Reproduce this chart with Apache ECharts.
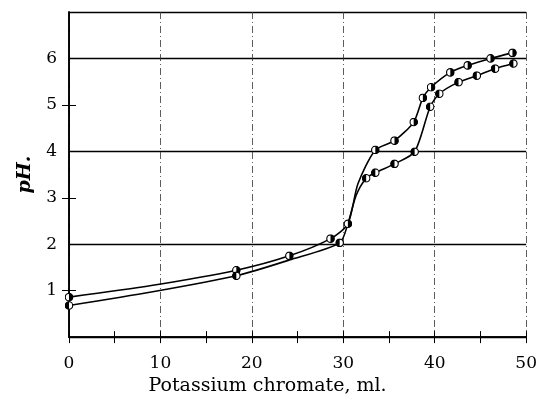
<!DOCTYPE html>
<html>
<head>
<meta charset="utf-8">
<script src="https://cdn.jsdelivr.net/npm/echarts@6/dist/echarts.min.js"></script>
<style>
html,body{margin:0;padding:0;background:#fff;}
#chart{width:540px;height:401px;}
</style>
</head>
<body>
<div id="chart"></div>
<script>
// ---- data ----
const xTicks = [0, 10, 20, 30, 40, 50];
const yTicks = [1, 2, 3, 4, 5, 6];
// upper curve (1 = measured point with marker, 0 = shape-only point on the drawn curve)
const upperX    = [0,    9,    18.3, 24.1, 28.6, 30.5, 31.6, 33.5, 35.6, 37.7, 38.7, 39.6, 41.7, 43.6, 46.1, 48.5];
const upperY    = [0.86, 1.11, 1.44, 1.75, 2.12, 2.44, 3.30, 4.03, 4.23, 4.63, 5.15, 5.38, 5.70, 5.85, 6.00, 6.12];
const upperMark = [1,    0,    1,    1,    1,    1,    0,    1,    1,    1,    1,    1,    1,    1,    1,    1];
// lower curve
const lowerX    = [0,    9,    18.3, 24.1, 29.6, 30.5, 31.4, 32.5, 33.5, 35.6, 37.8, 39.5, 40.5, 42.6, 44.6, 46.6, 48.6];
const lowerY    = [0.68, 0.97, 1.32, 1.66, 2.03, 2.44, 3.05, 3.42, 3.54, 3.73, 3.99, 4.96, 5.24, 5.49, 5.63, 5.78, 5.89];
const lowerMark = [1,    0,    1,    0,    1,    0,    0,    1,    1,    1,    1,    1,    1,    1,    1,    1,    1];

const FONT = '"DejaVu Serif", "Liberation Serif", serif';

function halfSvg(side) {
  const d = side === 'right'
    ? "M10 1.5 A8.5 8.5 0 0 1 10 18.5 Z"
    : "M10 1.5 A8.5 8.5 0 0 0 10 18.5 Z";
  const svg = "<svg xmlns='http://www.w3.org/2000/svg' width='20' height='20' viewBox='0 0 20 20'>" +
    "<circle cx='10' cy='10' r='8.3' fill='white' stroke='black' stroke-width='2.6'/>" +
    "<path d='" + d + "' fill='black'/></svg>";
  return 'image://data:image/svg+xml;charset=utf-8,' + encodeURIComponent(svg);
}
const symUpper = halfSvg('right');
const symLower = halfSvg('left');

function build(xs, ys, marks, sym) {
  return xs.map((x, i) => marks[i]
    ? { value: [x, ys[i]], symbol: sym }
    : { value: [x, ys[i]], symbol: 'none' });
}

const chart = echarts.init(document.getElementById('chart'), null, {renderer: 'canvas'});
const axisLineStyle = { color: '#000', width: 1.6 };
chart.setOption({
  animation: false,
  backgroundColor: '#fff',
  grid: { left: 69, right: 4, top: 12, bottom: 60, containLabel: false },
  xAxis: [
    {
      type: 'value', min: 0, max: 50, interval: 10, position: 'bottom',
      axisLine: { show: true, lineStyle: axisLineStyle },
      axisTick: { show: true, inside: true, length: 6, lineStyle: { color: '#000', width: 1 } },
      minorTick: { show: true, splitNumber: 2, length: 6, lineStyle: { color: '#000', width: 1 } },
      axisLabel: { margin: 18, color: '#000', fontFamily: FONT, fontSize: 17,
        formatter: v => xTicks.includes(v) ? String(v) : '' },
      splitLine: { show: true, lineStyle: { color: '#333', width: 0.8, type: [7, 3, 1, 3] } },
      name: 'Potassium chromate, ml.', nameLocation: 'middle', nameGap: 36,
      nameTextStyle: { color: '#000', fontFamily: FONT, fontSize: 19, padding: [0, 60, 0, 0] }
    },
    {
      type: 'value', min: 0, max: 50, interval: 10, position: 'top',
      axisLine: { show: true, lineStyle: axisLineStyle },
      axisTick: { show: true, inside: true, length: 6, lineStyle: { color: '#000', width: 1 } },
      minorTick: { show: true, splitNumber: 2, length: 6, lineStyle: { color: '#000', width: 1 } },
      axisLabel: { show: false },
      splitLine: { show: false }
    }
  ],
  yAxis: [
    {
      type: 'value', min: 0, max: 7, interval: 1, position: 'left',
      axisLine: { show: true, lineStyle: axisLineStyle },
      axisTick: { show: true, inside: true, length: 7, lineStyle: { color: '#000', width: 1 } },
      axisLabel: { margin: 12, color: '#000', fontFamily: FONT, fontSize: 17,
        formatter: v => yTicks.includes(v) ? String(v) : '' },
      splitLine: { show: false },
      name: 'pH.', nameLocation: 'middle', nameGap: 34, nameRotate: 90,
      nameTextStyle: { color: '#000', fontFamily: FONT, fontSize: 19, fontStyle: 'italic', fontWeight: 'bold', padding: [0, 0, 0, 0] }
    },
    {
      type: 'value', min: 0, max: 7, interval: 2, position: 'right',
      axisLine: { show: true, lineStyle: axisLineStyle },
      axisTick: { show: false, inside: true },
      minorTick: { show: true, splitNumber: 2, length: 7, lineStyle: { color: '#000', width: 1 } },
      axisLabel: { show: false },
      splitLine: { show: true, lineStyle: { color: '#000', width: 1.3 } }
    }
  ],
  series: [
    {
      type: 'line', xAxisIndex: 0, yAxisIndex: 0, smooth: 0.25,
      symbolSize: 9, lineStyle: { color: '#000', width: 1.6 }, itemStyle: { color: '#000' },
      data: build(upperX, upperY, upperMark, symUpper), z: 5
    },
    {
      type: 'line', xAxisIndex: 0, yAxisIndex: 0, smooth: 0.25,
      symbolSize: 9, lineStyle: { color: '#000', width: 1.6 }, itemStyle: { color: '#000' },
      data: build(lowerX, lowerY, lowerMark, symLower), z: 5
    }
  ]
});
</script>
</body>
</html>
